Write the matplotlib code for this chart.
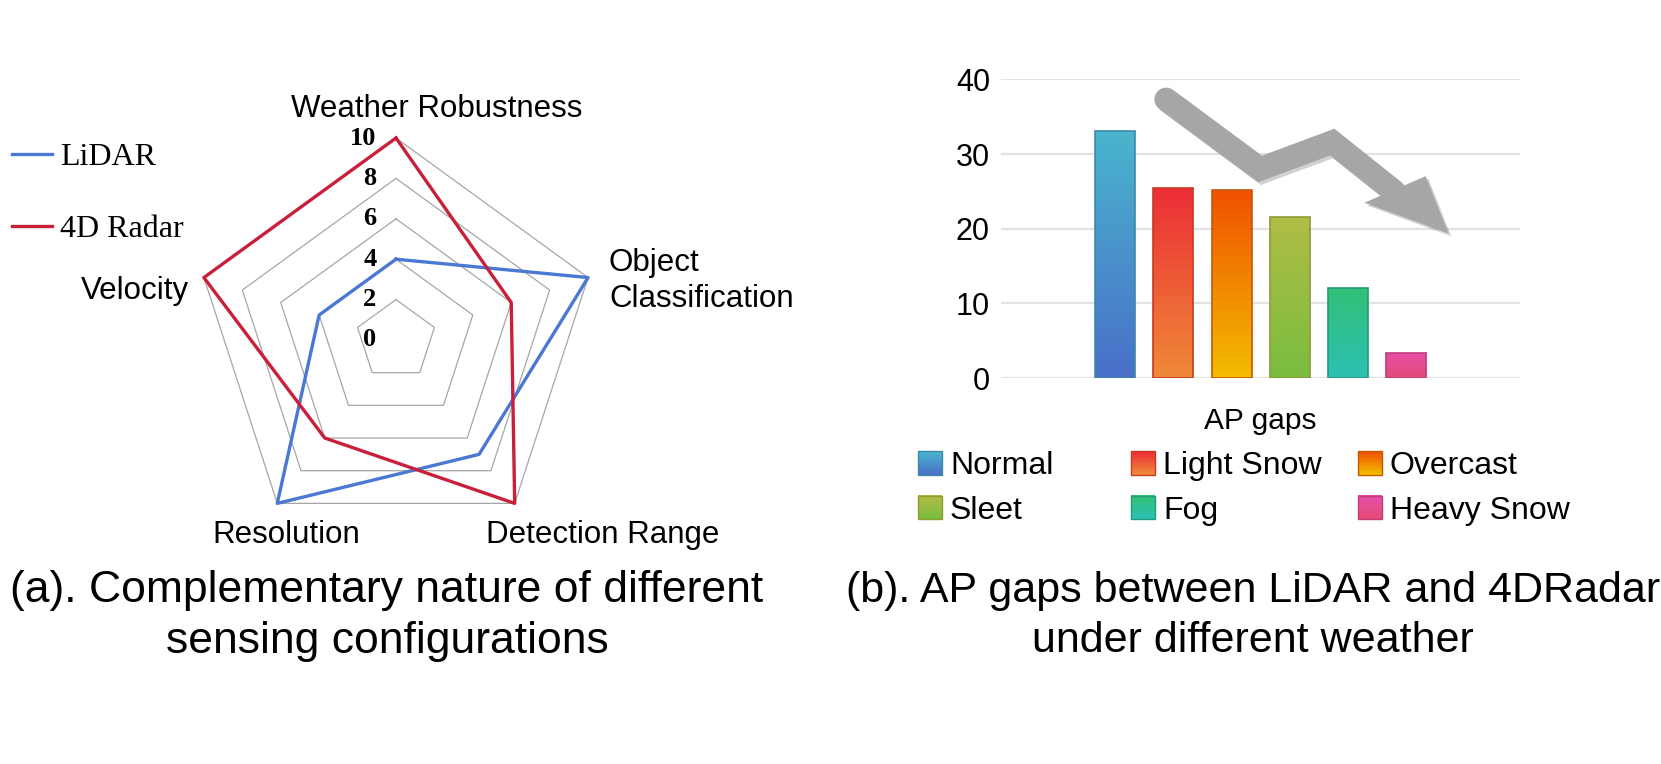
import numpy as np
import matplotlib
matplotlib.use("Agg")
import matplotlib.pyplot as plt
import matplotlib.patheffects as pe
from matplotlib.colors import LinearSegmentedColormap, to_rgb
from matplotlib.patches import Rectangle, Polygon
from matplotlib.legend_handler import HandlerBase

plt.rcParams['font.family'] = ['Liberation Sans', 'DejaVu Sans']

# ---- data: radar (a)
aspects = ["Weather Robustness", "Object\nClassification", "Detection Range", "Resolution", "Velocity"]
lidar = [4, 10, 7, 10, 4]
radar4d = [10, 6, 10, 6, 10]
rings = [2, 4, 6, 8, 10]
ring_ticks = [0, 2, 4, 6, 8, 10]

# ---- data: bars (b)
weather = ["Normal", "Light Snow", "Overcast", "Sleet", "Fog", "Heavy Snow"]
ap_gaps = [33.1, 25.5, 25.2, 21.6, 12.0, 3.3]
top_cols = ["#49b5cd", "#ec2d36", "#ef5000", "#b1bd45", "#31c077", "#e64fa8"]
bot_cols = ["#4a6fc9", "#ef8a38", "#f3bc00", "#78bd40", "#2dc0b4", "#e34b76"]
edge_cols = ["#3b8aa8", "#c83a22", "#c65a00", "#8f9a33", "#239a78", "#c23a7a"]
y_ticks = [0, 10, 20, 30, 40]

# arrow path (axes fraction)
arrow_x = [0.318, 0.499, 0.638, 0.757]
arrow_y = [0.933, 0.700, 0.790, 0.625]
head_x = [0.700, 0.862, 0.818]
head_y = [0.587, 0.484, 0.676]

fig = plt.figure(figsize=(16.61, 7.64), dpi=100)

# ================= (a) radar =================
ax = fig.add_axes([0.1168, 0.2906, 0.2432, 0.5288], projection='polar')
ax.set_theta_zero_location('N')
ax.set_theta_direction(-1)
n = len(aspects)
ang = np.arange(n) * 2 * np.pi / n
ang_c = np.append(ang, ang[0])

for lv in rings:
    ax.plot(ang_c, [lv] * (n + 1), color='#a6a6a6', lw=0.9, zorder=1, clip_on=False)

l1, = ax.plot(ang_c, lidar + lidar[:1], color='#4a78d2', lw=2.4, zorder=3,
              clip_on=False, label='LiDAR')
l2, = ax.plot(ang_c, radar4d + radar4d[:1], color='#c81f3b', lw=2.4, zorder=4,
              clip_on=False, label='4D Radar')

ax.set_ylim(0, 10)
ax.set_xticks([])
ax.set_yticks([])
ax.grid(False)
ax.spines['polar'].set_visible(False)
ax.patch.set_alpha(0)

for v in ring_ticks:
    ax.annotate(str(v), xy=(0, v), xytext=(-14, 0), textcoords='offset points',
                ha='right', va='center', fontsize=19, fontweight='bold',
                family='Liberation Serif', annotation_clip=False)

lab_off = [(29.5, 21), (15, -2.5), (63, -22.5), (6.5, -22.5), (-11, -9.5)]
lab_ha = ['center', 'left', 'center', 'center', 'right']
for i, name in enumerate(aspects):
    ax.annotate(name, xy=(ang[i], 10), xytext=lab_off[i], textcoords='offset points',
                ha=lab_ha[i], va='center', fontsize=22.5, multialignment='left',
                linespacing=1.3, annotation_clip=False)

fig.legend(handles=[l1, l2], loc='upper left', bbox_to_anchor=(0.0072, 0.8135),
           frameon=False, prop={'family': 'Liberation Serif', 'size': 23},
           handlelength=1.25, handletextpad=0.26, labelspacing=1.33,
           borderpad=0, borderaxespad=0)

fig.text(387 / 1661, 1 - 616 / 764,
         "(a). Complementary nature of different\nsensing configurations",
         ha='center', va='center', fontsize=32, linespacing=1.3)

# ================= (b) bars =================
bx = fig.add_axes([0.6027, 0.5052, 0.3125, 0.3909])
k = len(weather)
slot = 0.112
pos = (np.arange(k) - (k - 1) / 2) * slot
bars = bx.bar(pos, ap_gaps, width=0.077, facecolor='none', edgecolor=edge_cols,
              linewidth=1.2, zorder=3)
grad = np.linspace(0, 1, 256).reshape(-1, 1)
for rect, c0, c1 in zip(bars, bot_cols, top_cols):
    cm = LinearSegmentedColormap.from_list('g', [c0, c1])
    x0 = rect.get_x()
    im = bx.imshow(grad, cmap=cm, origin='lower', aspect='auto', zorder=2,
                   extent=[x0, x0 + rect.get_width(), 0, rect.get_height()])
    im.set_clip_path(rect)

bx.set_xlim(-0.5, 0.5)
bx.set_ylim(0, 40)
bx.set_yticks(y_ticks)
bx.set_xticks([])
bx.tick_params(axis='y', length=0, pad=8, labelsize=22)
bx.yaxis.grid(True, color='#e2e2e2', lw=1.6, zorder=0)
bx.set_axisbelow(True)
for s in bx.spines.values():
    s.set_visible(False)
bx.text(0.5, -0.144, "AP gaps", transform=bx.transAxes, ha='center', va='center',
        fontsize=21.5)

# arrow
shaft, = bx.plot(arrow_x, arrow_y, transform=bx.transAxes, color='#a6a6a6', lw=17,
                 solid_capstyle='round', solid_joinstyle='miter', zorder=5, clip_on=False)
shaft.set_path_effects([pe.SimpleLineShadow(offset=(2, -2), shadow_color='k', alpha=0.18),
                        pe.Normal()])
head = Polygon(list(zip(head_x, head_y)), closed=True, transform=bx.transAxes,
               facecolor='#a6a6a6', edgecolor='none', zorder=5, clip_on=False)
head.set_path_effects([pe.SimplePatchShadow(offset=(2, -2), shadow_rgbFace='k', alpha=0.18),
                       pe.Normal()])
bx.add_patch(head)


class GradHandler(HandlerBase):
    def __init__(self, c0, c1, ec):
        super().__init__()
        self.c0, self.c1, self.ec = to_rgb(c0), to_rgb(c1), ec

    def create_artists(self, legend, orig_handle, xdescent, ydescent, width, height,
                       fontsize, trans):
        arts = []
        m = 12
        for j in range(m):
            t = j / (m - 1)
            col = tuple(a + (b - a) * t for a, b in zip(self.c0, self.c1))
            arts.append(Rectangle((-xdescent, -ydescent + height * j / m), width, height / m + 0.3,
                                  facecolor=col, edgecolor='none', transform=trans))
        arts.append(Rectangle((-xdescent, -ydescent), width, height, facecolor='none',
                              edgecolor=self.ec, lw=1.0, transform=trans))
        return arts


col_x = [918, 1131, 1358]
for j in range(3):
    hs = [bars[j], bars[j + 3]]
    hm = {bars[i]: GradHandler(bot_cols[i], top_cols[i], edge_cols[i]) for i in (j, j + 3)}
    fig.legend(handles=hs, labels=[weather[j], weather[j + 3]], handler_map=hm,
               loc='upper left', bbox_to_anchor=(col_x[j] / 1661, 1 - 451 / 764),
               frameon=False, fontsize=23, handlelength=0.75, handleheight=0.75,
               handletextpad=0.25, labelspacing=0.46, borderpad=0, borderaxespad=0)

fig.text(1253 / 1661, 1 - 616 / 764,
         "(b). AP gaps between LiDAR and 4DRadar\nunder different weather",
         ha='center', va='center', fontsize=31, linespacing=1.3)

fig.savefig("out.png", dpi=100, facecolor='white')
